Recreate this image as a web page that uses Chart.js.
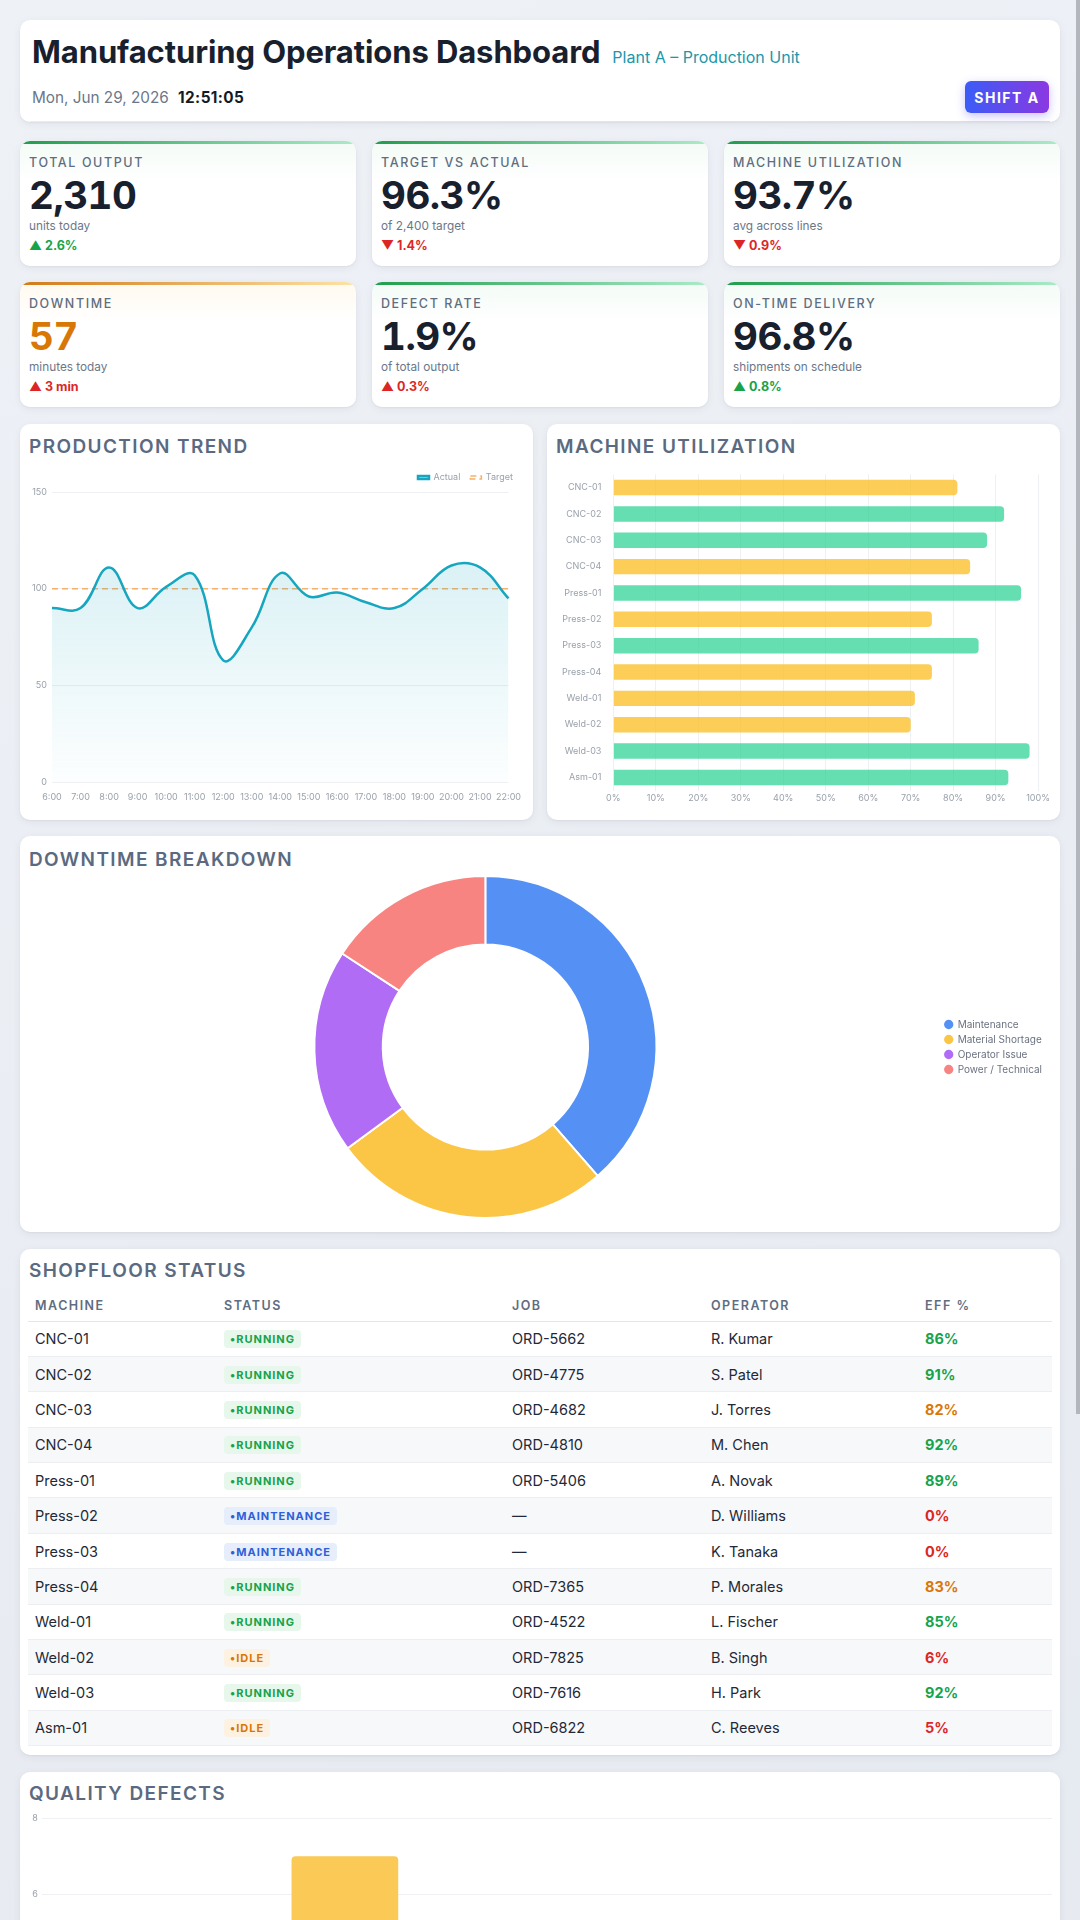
<!DOCTYPE html>
<html><head><meta charset="utf-8">
<script src="https://cdn.jsdelivr.net/npm/chart.js@4.4.0/dist/chart.umd.min.js"></script>
<style>
::-webkit-scrollbar{width:4px}
::-webkit-scrollbar-track{background:#e6eaf0}
::-webkit-scrollbar-thumb{background:#b3b7bd}
html,body{margin:0;padding:0}
body{background:linear-gradient(160deg,#eef1f6 0%,#e5e9f0 100%);font-family:Inter,'Noto Sans',sans-serif;color:#1e293b;}
.wrap{width:1040px;margin-left:20px;padding-top:20px;padding-bottom:40px}
.fakebar{position:fixed;right:0;top:0;width:4px;height:1414px;background:#b3b7bd;z-index:10}
.card{background:#fff;border-radius:10px;box-shadow:0 2px 8px rgba(30,41,59,.06),0 1px 2px rgba(30,41,59,.05);position:relative;overflow:hidden;box-sizing:border-box}
.header{height:102px;padding:14px 12px 0 12px}
.header:after{content:"";position:absolute;left:10px;right:10px;bottom:0;height:1px;background:linear-gradient(90deg,rgba(34,160,180,.15),rgba(139,92,246,.25))}
.title{font-size:31px;font-weight:700;letter-spacing:-0.1px;line-height:36px;color:#18202e}
.sub{font-size:16px;color:#2196aa;margin-left:12px;font-weight:400;letter-spacing:0}
.date{margin-top:13px;font-size:15.3px;line-height:20px;color:#6b7789}
.date b{color:#141b27;font-weight:700;margin-left:5px;letter-spacing:0.4px}
.shift{position:absolute;right:11px;top:61px;width:84px;height:32px;border-radius:6px;background:linear-gradient(90deg,#3b5cf6,#8b38e2);color:#fff;font-weight:700;font-size:14px;letter-spacing:1.5px;display:flex;align-items:center;justify-content:center;box-shadow:0 3px 10px rgba(99,84,240,.35)}
.kpis{display:grid;grid-template-columns:repeat(3,1fr);column-gap:16px;row-gap:16px;margin-top:19px}
.kpi{height:125px;padding:14px 9px 0 9px;background:linear-gradient(180deg,#f3fbf6 0px,#ffffff 40px)}
.kpi:before{content:"";position:absolute;left:0;right:0;top:0;height:3px;background:linear-gradient(90deg,#1f9d4c,#a9ebc8)}
.kpi.warn{background:linear-gradient(180deg,#fffaf0 0px,#ffffff 40px)}
.kpi.warn:before{background:linear-gradient(90deg,#d27a18,#fde3a6)}
.klabel{font-size:12.5px;line-height:16px;letter-spacing:1.6px;color:#5f6d80;font-weight:500}
.kval{font-size:38.5px;line-height:40px;font-weight:700;letter-spacing:-0.5px;color:#18202e;margin-top:4px;font-feature-settings:'tnum' 1}
.kval.orange{color:#d97706}
.ksub{font-size:11.8px;line-height:16px;color:#6b7789;margin-top:3px}
.kdelta{font-size:12.5px;line-height:16px;font-weight:700;margin-top:4px}
.up{color:#16a34a}.down{color:#dc2626}
.ctitle{font-size:19px;font-weight:600;letter-spacing:1.4px;line-height:24px;color:#5b6a80}
.row2{display:grid;grid-template-columns:513px 513px;column-gap:14px;margin-top:17px}
.chartcard{height:396px;padding:11px 0 0 0}
.chartcard .ctitle{padding-left:9px}
.cwrap{position:relative;margin-top:4px;height:342px}
.dcard{height:396px;padding:12px 0 0 0;margin-top:16px}
.dcard .ctitle{padding-left:9px}
.tcard{height:506px;padding:10px 8px 0 8px;margin-top:17px}
.tcard .ctitle{padding-left:1px}
table{width:100%;border-collapse:collapse;margin-top:7px;font-size:14.5px;color:#1f2937}
th{height:31px;text-align:left;font-size:12.5px;font-weight:600;letter-spacing:1.5px;color:#5f6d80;padding:0 7px;border-bottom:1.5px solid #e3e6ea;box-sizing:border-box}
td{height:35.4px;padding:0 7px;border-bottom:1px solid #eceef1;box-sizing:border-box}
tbody tr:nth-child(even) td{background:#f7f8fa}
.badge{display:inline-block;font-size:11px;font-weight:700;letter-spacing:1px;padding:3px 6px;border-radius:4px;line-height:12px}
.b-run{color:#16a34a;background:#e7f7ec}
.b-mnt{color:#2f5fd8;background:#e6edfb}
.b-idle{color:#d97706;background:#fdf2e1}
.eff{font-weight:700}
.qcard{height:420px;padding:10px 8px 0 8px;margin-top:17px}
.qcard .ctitle{padding-left:1px}
</style></head>
<body>
<div class="fakebar"></div>
<div class="wrap">
  <div class="card header">
    <div class="title">Manufacturing Operations Dashboard<span class="sub">Plant A – Production Unit</span></div>
    <div class="date">Mon, Jun 29, 2026 <b>12:51:05</b></div>
    <div class="shift">SHIFT A</div>
  </div>
  <div class="kpis" id="kpis"></div>
  <div class="row2">
    <div class="card chartcard"><div class="ctitle">PRODUCTION TREND</div><div class="cwrap" style="margin-left:7px;margin-right:10px"><canvas id="trend"></canvas></div></div>
    <div class="card chartcard"><div class="ctitle">MACHINE UTILIZATION</div><div class="cwrap" style="margin-left:3px;margin-right:8px;margin-top:-2px;height:351px"><canvas id="util"></canvas></div></div>
  </div>
  <div class="card dcard"><div class="ctitle">DOWNTIME BREAKDOWN</div><div class="cwrap" style="margin-left:11px;margin-right:8px;height:344px;margin-top:3px"><canvas id="down"></canvas></div></div>
  <div class="card tcard"><div class="ctitle">SHOPFLOOR STATUS</div>
    <table><thead><tr><th style="width:189px">MACHINE</th><th style="width:288px">STATUS</th><th style="width:199px">JOB</th><th style="width:214px">OPERATOR</th><th>EFF %</th></tr></thead><tbody id="tbody"></tbody></table>
  </div>
  <div class="card qcard"><div class="ctitle">QUALITY DEFECTS</div><div class="cwrap" style="margin-left:0px;margin-right:0px;height:340px;margin-top:2px"><canvas id="qual"></canvas></div></div>
</div>
<script>
// ---- KPI data ----
const kpiLabels = ['TOTAL OUTPUT','TARGET VS ACTUAL','MACHINE UTILIZATION','DOWNTIME','DEFECT RATE','ON-TIME DELIVERY'];
const kpiValues = ['2,310','96.3%','93.7%','57','1.9%','96.8%'];
const kpiSubs = ['units today','of 2,400 target','avg across lines','minutes today','of total output','shipments on schedule'];
const kpiDeltas = ['2.6%','1.4%','0.9%','3 min','0.3%','0.8%'];
const kpiDeltaDir = ['up','down','down','up','up','up'];
const kpiDeltaGood = [true,false,false,false,false,true];

// ---- Production trend ----
const hours = ['6:00','7:00','8:00','9:00','10:00','11:00','12:00','13:00','14:00','15:00','16:00','17:00','18:00','19:00','20:00','21:00','22:00'];
const actualOutput = [90,90,111,90,101,107,63,80,108,96,98,93,90,100,112,111,95];
const targetOutput = [100,100,100,100,100,100,100,100,100,100,100,100,100,100,100,100,100];

// ---- Machine utilization ----
const machines = ['CNC-01','CNC-02','CNC-03','CNC-04','Press-01','Press-02','Press-03','Press-04','Weld-01','Weld-02','Weld-03','Asm-01'];
const utilization = [81,92,88,84,96,75,86,75,71,70,98,93];
const utilTicks = [0,10,20,30,40,50,60,70,80,90,100];

// ---- Downtime ----
const downtimeCauses = ['Maintenance','Material Shortage','Operator Issue','Power / Technical'];
const downtimeMinutes = [22,15,11,9];

// ---- Shopfloor table ----
const statuses = ['RUNNING','RUNNING','RUNNING','RUNNING','RUNNING','MAINTENANCE','MAINTENANCE','RUNNING','RUNNING','IDLE','RUNNING','IDLE'];
const jobs = ['ORD-5662','ORD-4775','ORD-4682','ORD-4810','ORD-5406','—','—','ORD-7365','ORD-4522','ORD-7825','ORD-7616','ORD-6822'];
const operators = ['R. Kumar','S. Patel','J. Torres','M. Chen','A. Novak','D. Williams','K. Tanaka','P. Morales','L. Fischer','B. Singh','H. Park','C. Reeves'];
const efficiency = [86,91,82,92,89,0,0,83,85,6,92,5];

// ---- Quality defects ----
const defectTypes = ['Dimensional','Surface Finish','Weld Porosity','Assembly','Material'];
const defectCounts = [4,7,3,5,2];

// Build KPIs
const kp = document.getElementById('kpis');
kpiLabels.forEach((l,i)=>{
  const d=document.createElement('div');
  d.className='card kpi'+(i===3?' warn':'');
  const arrow = kpiDeltaDir[i]==='up'?'▲':'▼';
  d.innerHTML=`<div class="klabel">${l}</div><div class="kval${i===3?' orange':''}">${kpiValues[i]}</div><div class="ksub">${kpiSubs[i]}</div><div class="kdelta ${kpiDeltaGood[i]?'up':'down'}">${arrow} ${kpiDeltas[i]}</div>`;
  kp.appendChild(d);
});
// Build table
const tb=document.getElementById('tbody');
machines.forEach((m,i)=>{
  const s=statuses[i];
  const cls = s==='RUNNING'?'b-run':(s==='MAINTENANCE'?'b-mnt':'b-idle');
  const e=efficiency[i];
  const col = e>=85?'#16a34a':(e>=70?'#d97706':'#dc2626');
  const tr=document.createElement('tr');
  tr.innerHTML=`<td>${m}</td><td><span class="badge ${cls}">•${s}</span></td><td>${jobs[i]}</td><td>${operators[i]}</td><td class="eff" style="color:${col}">${e}%</td>`;
  tb.appendChild(tr);
});

Chart.defaults.font.family = 'Inter, sans-serif';
Chart.defaults.font.size = 9;
Chart.defaults.color = '#9aa1ab';
Chart.defaults.animation = false;
Chart.defaults.plugins.tooltip.enabled = false;
const gridColor = '#eef0f3';

new Chart(document.getElementById('trend'),{
  type:'line',
  data:{labels:hours,datasets:[
    {label:'Actual',data:actualOutput,borderColor:'#16a6bf',borderWidth:2.5,tension:0.4,fill:true,pointRadius:0,
     backgroundColor:(c)=>{const a=c.chart.chartArea; if(!a) return 'rgba(22,166,191,0.9)'; const g=c.chart.ctx.createLinearGradient(0,a.top,0,a.bottom); g.addColorStop(0,'rgba(22,166,191,0.20)'); g.addColorStop(1,'rgba(22,166,191,0.01)'); return g;}},
    {label:'Target',data:targetOutput,borderColor:'#f5b06a',borderWidth:1.5,borderDash:[6,4],pointRadius:0,fill:false,backgroundColor:'rgba(0,0,0,0)'}
  ]},
  options:{responsive:true,maintainAspectRatio:false,
    plugins:{legend:{position:'top',align:'end',labels:{boxWidth:11,boxHeight:3,padding:10,color:'#9aa1ab',font:{size:9}}}},
    scales:{
      x:{grid:{display:false},border:{display:false},ticks:{padding:2,maxRotation:0,autoSkip:false}},
      y:{min:0,max:150,ticks:{stepSize:50,padding:5},grid:{color:gridColor,drawTicks:false},border:{display:false}}
    }}
});

new Chart(document.getElementById('util'),{
  type:'bar',
  data:{labels:machines,datasets:[{data:utilization,
    backgroundColor:utilization.map(v=>v>=85?'rgba(52,211,153,0.76)':'rgba(251,191,36,0.76)'),
    borderRadius:4,barPercentage:0.65,categoryPercentage:0.9}]},
  options:{indexAxis:'y',responsive:true,maintainAspectRatio:false,layout:{padding:{top:0}},
    plugins:{legend:{display:false}},
    scales:{
      x:{min:0,max:100,afterBuildTicks:(s)=>{s.ticks=utilTicks.map(v=>({value:v}));},ticks:{callback:v=>v+'%',padding:2},grid:{color:gridColor,drawTicks:false},border:{display:false}},
      y:{grid:{display:false,drawTicks:false},border:{display:false},ticks:{padding:12}}
    }}
});

new Chart(document.getElementById('down'),{
  type:'doughnut',
  data:{labels:downtimeCauses,datasets:[{data:downtimeMinutes,backgroundColor:['#5591f5','#fbc546','#b06cf4','#f88482'],borderColor:'#ffffff',borderWidth:2}]},
  options:{responsive:true,maintainAspectRatio:false,cutout:'60%',
    plugins:{legend:{position:'right',labels:{usePointStyle:true,pointStyle:'circle',boxWidth:8,boxHeight:8,padding:5,color:'#6b7280',font:{size:10}}}}}
});

new Chart(document.getElementById('qual'),{
  type:'bar',
  data:{labels:defectTypes,datasets:[{data:defectCounts,backgroundColor:['#f88482','#fbc955','#5591f5','#b06cf4','#34d399'],borderRadius:4,barPercentage:0.6,categoryPercentage:0.88}]},
  options:{responsive:true,maintainAspectRatio:false,layout:{padding:{top:10}},
    plugins:{legend:{display:false}},
    scales:{
      y:{min:0,max:8,ticks:{stepSize:2,padding:4},grid:{color:gridColor,drawTicks:false},border:{display:false}},
      x:{grid:{display:false},border:{display:false}}
    }}
});
</script>
</body></html>
